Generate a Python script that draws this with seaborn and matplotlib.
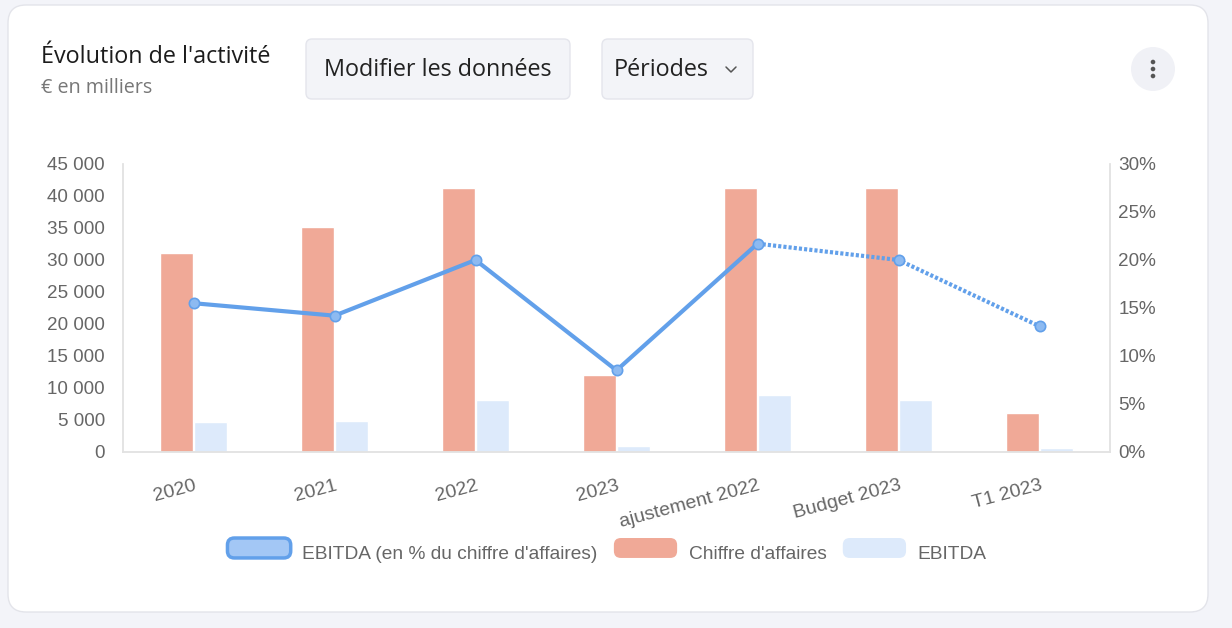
import numpy as np
import pandas as pd
import matplotlib
matplotlib.use("Agg")
import matplotlib.pyplot as plt
import seaborn as sns
from matplotlib.patches import FancyBboxPatch, Circle, Patch
from matplotlib.lines import Line2D
from matplotlib.transforms import IdentityTransform
from matplotlib.ticker import FuncFormatter, MultipleLocator
from matplotlib.legend_handler import HandlerBase

PERIODES = ["2020", "2021", "2022", "2023", "ajustement 2022", "Budget 2023", "T1 2023"]
CHIFFRE_AFFAIRES = [31100, 35200, 41200, 12000, 41200, 41200, 6100]
EBITDA = [4700, 4900, 8200, 1000, 8900, 8200, 700]
EBITDA_PCT = [15.5, 14.2, 20.0, 8.5, 21.7, 20.0, 13.1]
N_REEL = 5  # periods drawn with a solid line, the rest is dotted

SERIES = ["Chiffre d'affaires", "EBITDA"]
LINE_LABEL = "EBITDA (en % du chiffre d'affaires)"

W, H = 1232, 628
BG = "#f3f4f9"
C_CA = "#f0a997"
C_EB = "#ddeafb"
C_LINE = "#62a0ea"
C_MARK = "#8dbaf1"
C_TXT = "#666666"
C_AXIS = "#e2e2e2"
HEAD_FONT = ["Open Sans", "DejaVu Sans"]

sns.set_theme(style="white")
plt.rcParams["font.family"] = ["Liberation Sans", "DejaVu Sans"]

PX = IdentityTransform()


def py(y):
    # image y (top down) -> display y (bottom up)
    return H - y


class RoundBox(HandlerBase):
    def create_artists(self, legend, orig, xd, yd, w, h, fontsize, trans):
        p = FancyBboxPatch((xd, yd - 1), w, h + 2,
                           boxstyle="round,pad=0,rounding_size=5",
                           fc=orig.get_facecolor(), ec=orig.get_edgecolor(),
                           lw=orig.get_linewidth(), transform=trans)
        return [p]


def draw_header(fig):
    card = FancyBboxPatch((8, py(612)), 1200, 607,
                          boxstyle="round,pad=0,rounding_size=18",
                          fc="white", ec="#e3e4ea", lw=1, transform=PX, zorder=0)
    fig.add_artist(card)

    fig.text(41, py(57), "Évolution de l'activité", transform=PX, fontsize=16.8,
             family=HEAD_FONT, color="#1c1c1c", va="center")
    fig.text(41, py(88), "€ en milliers", transform=PX, fontsize=14.2,
             family=HEAD_FONT, color="#777777", va="center")

    for x0, w in [(306, 264), (602, 151)]:
        b = FancyBboxPatch((x0, py(99)), w, 60, boxstyle="round,pad=0,rounding_size=6",
                           fc="#f3f4f8", ec="#e4e5ec", lw=1, transform=PX)
        fig.add_artist(b)
    fig.text(438, py(70), "Modifier les données", transform=PX, fontsize=16.8,
             family=HEAD_FONT, color="#222222", ha="center", va="center")
    fig.text(614, py(70), "Périodes", transform=PX, fontsize=16.8,
             family=HEAD_FONT, color="#222222", ha="left", va="center")
    fig.add_artist(Line2D([726, 731, 736], [py(67), py(72), py(67)], transform=PX,
                          color="#555555", lw=1.1))

    fig.add_artist(Circle((1153, py(69)), 22, fc="#f0f1f6", ec="none", transform=PX))
    for dy in (-7, 0, 7):
        fig.add_artist(Circle((1153, py(69 + dy)), 2.3, fc="#555555", ec="none", transform=PX))


def main():
    df = pd.DataFrame({
        "periode": PERIODES * 2,
        "serie": [SERIES[0]] * len(PERIODES) + [SERIES[1]] * len(PERIODES),
        "valeur": CHIFFRE_AFFAIRES + EBITDA,
    })
    pos = np.arange(len(PERIODES))

    fig = plt.figure(figsize=(W / 100, H / 100), dpi=100, facecolor=BG)
    draw_header(fig)

    ax = fig.add_axes([123 / W, 1 - 452 / H, (1110 - 123) / W, (452 - 164) / H])
    ax.set_facecolor("none")
    sns.barplot(data=df, x="periode", y="valeur", hue="serie",
                palette={SERIES[0]: C_CA, SERIES[1]: C_EB}, saturation=1,
                width=0.49, gap=0.05, legend=False, ax=ax)
    ax.set_xlim(-0.5, len(PERIODES) - 0.5)
    ax.set_ylim(0, 45000)
    ax.yaxis.set_major_locator(MultipleLocator(5000))
    ax.yaxis.set_major_formatter(FuncFormatter(lambda v, _: f"{v:,.0f}".replace(",", " ")))
    ax.set_xlabel("")
    ax.set_ylabel("")
    ax.tick_params(axis="y", length=0, pad=13, labelsize=13.6, labelcolor=C_TXT)
    ax.tick_params(axis="x", length=0, pad=18, labelsize=14, labelcolor=C_TXT)
    for lab in ax.get_xticklabels():
        lab.set_rotation(15)
        lab.set_ha("right")
        lab.set_rotation_mode("anchor")
    for s in ["top", "right"]:
        ax.spines[s].set_visible(False)
    for s in ["left", "bottom"]:
        ax.spines[s].set_color(C_AXIS)
        ax.spines[s].set_linewidth(1.3)

    ax2 = ax.twinx()
    sns.lineplot(x=pos[:N_REEL], y=EBITDA_PCT[:N_REEL], ax=ax2, color=C_LINE,
                 lw=3, sort=False, solid_capstyle="round", solid_joinstyle="round")
    sns.lineplot(x=pos[N_REEL - 1:], y=EBITDA_PCT[N_REEL - 1:], ax=ax2, color=C_LINE,
                 lw=3, sort=False, linestyle=(0, (0.75, 0.5)), dash_capstyle="butt")
    sns.scatterplot(x=pos, y=EBITDA_PCT, ax=ax2, s=55, color=C_MARK,
                    edgecolor=C_LINE, linewidth=1.2, zorder=5)
    ax2.set_ylim(0, 30)
    ax2.yaxis.set_major_locator(MultipleLocator(5))
    ax2.yaxis.set_major_formatter(FuncFormatter(lambda v, _: f"{v:.0f}%"))
    ax2.set_ylabel("")
    ax2.tick_params(axis="y", length=0, pad=6, labelsize=13.6, labelcolor=C_TXT)
    for s in ["top", "left", "bottom"]:
        ax2.spines[s].set_visible(False)
    ax2.spines["right"].set_color(C_AXIS)
    ax2.spines["right"].set_linewidth(1.3)
    ax2.set_xlim(-0.5, len(PERIODES) - 0.5)

    handles = [Patch(fc="#a3c7f5", ec=C_LINE, lw=2.5),
               Patch(fc=C_CA, ec="none", lw=0),
               Patch(fc=C_EB, ec="none", lw=0)]
    labels = [LINE_LABEL, SERIES[0], SERIES[1]]
    fig.legend(handles, labels, loc="center", bbox_to_anchor=(607, py(553)),
               bbox_transform=PX, ncol=3, frameon=False, fontsize=13.8,
               labelcolor=C_TXT, handlelength=3.3, handleheight=1.0,
               handletextpad=0.6, columnspacing=0.85,
               handler_map={Patch: RoundBox()})

    fig.savefig("out.png", dpi=100, facecolor=BG)
    plt.close(fig)


if __name__ == "__main__":
    main()
